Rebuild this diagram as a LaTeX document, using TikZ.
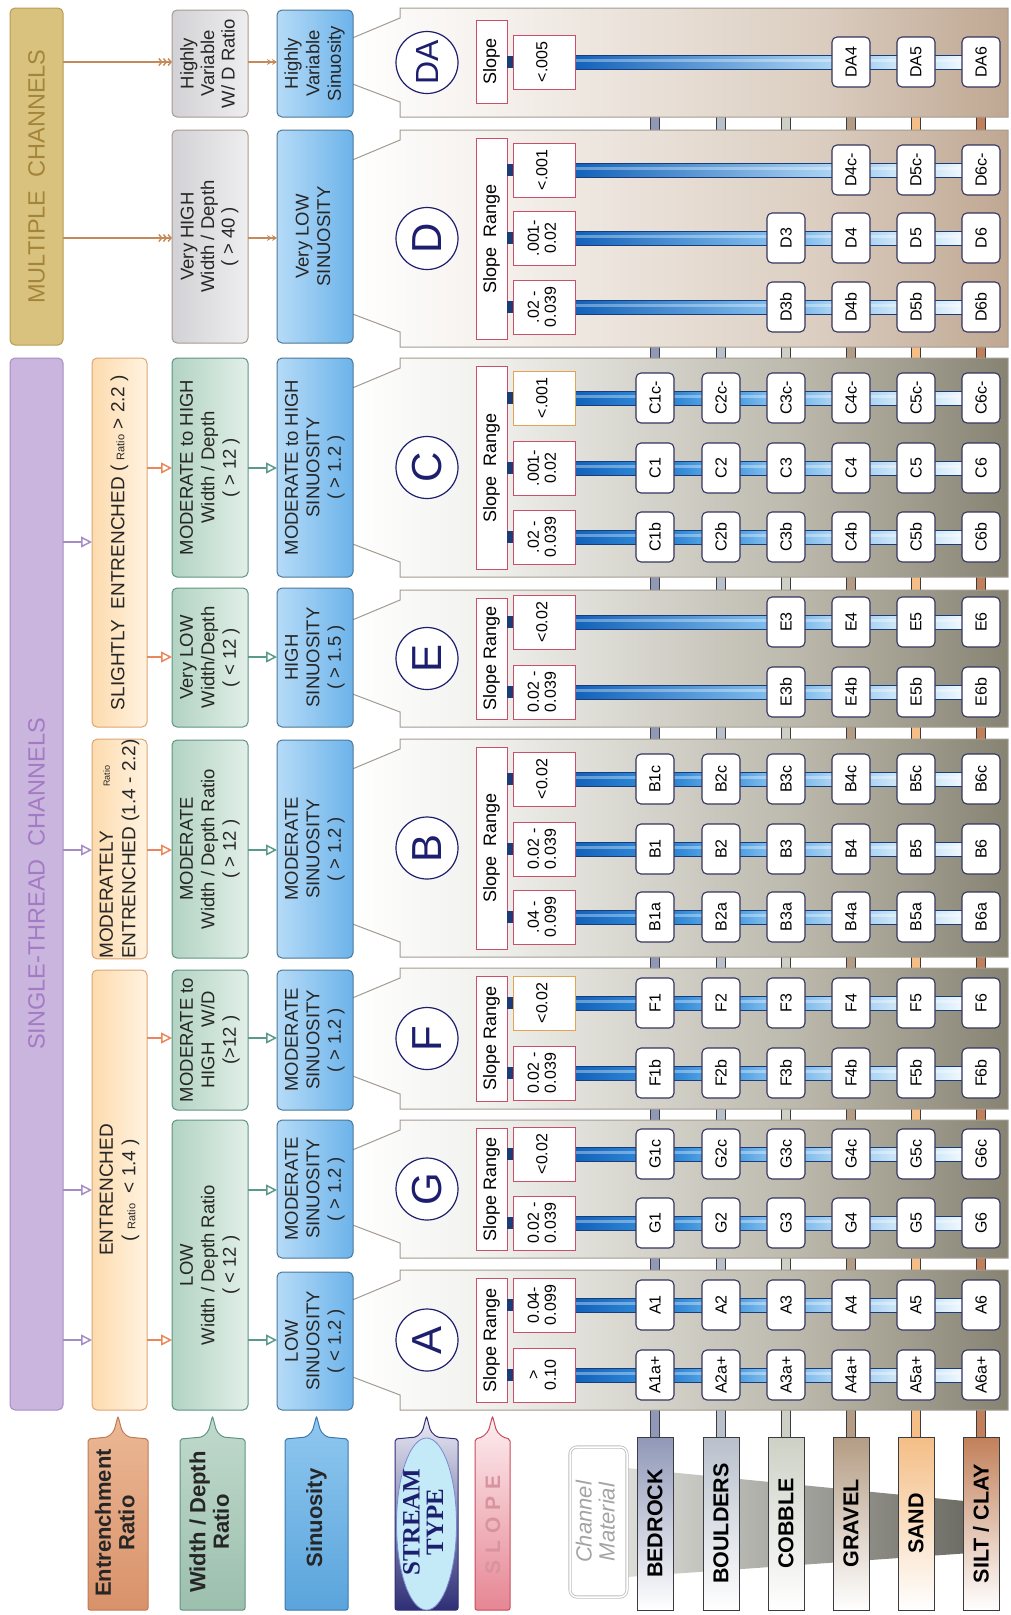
\documentclass[tikz,border=0pt]{standalone}
\usepackage{fontspec}
\setmainfont{Liberation Sans}
\newfontfamily\serf{Liberation Serif}
\newfontfamily\spacedf[LetterSpace=32]{Liberation Sans}
\usepackage{graphicx}
\usetikzlibrary{arrows.meta,calc}
\pgfdeclarelayer{pan}
\pgfdeclarelayer{barl}
\pgfsetlayers{pan,barl,main}

\definecolor{navy}{HTML}{1E1E6E}
\definecolor{tbd}{HTML}{33335C}
\definecolor{bardk}{HTML}{1C3C78}
\definecolor{bs0}{HTML}{1262BA}
\definecolor{bs1}{HTML}{2C84D4}
\definecolor{bs2}{HTML}{50A0E2}
\definecolor{bs3}{HTML}{80BCEC}
\definecolor{bs4}{HTML}{ACD4F3}
\definecolor{bs5}{HTML}{D0E8F8}
\definecolor{bs6}{HTML}{F0F8FE}
\definecolor{slred}{HTML}{C8506A}
\definecolor{slor}{HTML}{E2A452}
\definecolor{pnl}{HTML}{A39B91}
\definecolor{stl}{HTML}{F1F1EE}
\definecolor{stmid}{HTML}{B9B6A9}
\definecolor{stright}{HTML}{878373}
\definecolor{dl}{HTML}{F6F2EE}
\definecolor{dmid}{HTML}{DCCFC2}
\definecolor{dright}{HTML}{BFA792}
\definecolor{mcf}{HTML}{D9C27E}
\definecolor{mcd}{HTML}{B89C56}
\definecolor{mct}{HTML}{A4843A}
\definecolor{stcf}{HTML}{C9B5DD}
\definecolor{stcd}{HTML}{A68EC2}
\definecolor{stct}{HTML}{A47AC4}
\definecolor{entl}{HTML}{FDDBAE}
\definecolor{entr}{HTML}{FFF3E0}
\definecolor{entd}{HTML}{DDA474}
\definecolor{wdl}{HTML}{B2D3C3}
\definecolor{wdr}{HTML}{E2EFE8}
\definecolor{wdd}{HTML}{5E9482}
\definecolor{mwl}{HTML}{D2D2D6}
\definecolor{mwr}{HTML}{EEEEF0}
\definecolor{mwd}{HTML}{A89A8C}
\definecolor{sil}{HTML}{B6DBF7}
\definecolor{sir}{HTML}{6CB3EA}
\definecolor{sid}{HTML}{4A7898}
\definecolor{arrp}{HTML}{A48CC4}
\definecolor{arro}{HTML}{E8885C}
\definecolor{arrg}{HTML}{5A9A8A}
\definecolor{arrb}{HTML}{C48A5A}
\definecolor{bedc}{HTML}{9098B8}
\definecolor{boulc}{HTML}{B8C0CC}
\definecolor{cobc}{HTML}{CDD1C5}
\definecolor{grac}{HTML}{B49C84}
\definecolor{sanc}{HTML}{F4BE86}
\definecolor{silc}{HTML}{C2805A}
\definecolor{matd}{HTML}{3C3C40}
\definecolor{wdgl}{HTML}{DCDCD8}
\definecolor{wdgr}{HTML}{66665E}
\definecolor{chg}{HTML}{A4A4A4}
\definecolor{lget}{HTML}{ECB896}
\definecolor{lgeb}{HTML}{D8926A}
\definecolor{lged}{HTML}{C07A56}
\definecolor{lgwt}{HTML}{C0DACC}
\definecolor{lgwb}{HTML}{9CBFAE}
\definecolor{lgsit}{HTML}{90C8EF}
\definecolor{lgsib}{HTML}{5AA4DC}
\definecolor{lgsid}{HTML}{3A78B0}
\definecolor{lgstt}{HTML}{ECECF6}
\definecolor{lgstb}{HTML}{2E2E76}
\definecolor{elf}{HTML}{C4EAF8}
\definecolor{elb}{HTML}{7A8AD0}
\definecolor{lgslt}{HTML}{FDEEF0}
\definecolor{lgslb}{HTML}{E68694}
\definecolor{lgsld}{HTML}{C84A5A}
\definecolor{slt}{HTML}{D8949E}

\pgfdeclarehorizontalshading{stpanel}{100bp}{color(0bp)=(white); color(25bp)=(white); color(35bp)=(stl); color(60bp)=(stmid); color(75bp)=(stright); color(100bp)=(stright)}
\pgfdeclarehorizontalshading{dpanel}{100bp}{color(0bp)=(white); color(25bp)=(white); color(35bp)=(dl); color(60bp)=(dmid); color(75bp)=(dright); color(100bp)=(dright)}

\newcommand\fs[2]{\fontsize{#1}{#2}\selectfont}
\newcommand\vt[1]{\rotatebox{90}{\begin{tabular}{@{}c@{}}#1\end{tabular}}}
\newcommand\vtl[1]{\rotatebox{90}{\begin{tabular}{@{}l@{}}#1\end{tabular}}}

% bar between two named nodes
\newcommand\sbar[4]{%
  \begin{pgfonlayer}{barl}
  \path[left color=#3, right color=#4] ($(#1.east)+(0,-7)$) rectangle ($(#2.west)+(0,7)$);
  \draw[bardk, line width=0.9pt] ($(#1.east)+(0,-7)$) -- ($(#2.west)+(0,-7)$);
  \draw[bardk, line width=0.9pt] ($(#1.east)+(0,7)$) -- ($(#2.west)+(0,7)$);
  \draw[white, opacity=0.35, line width=3pt] ($(#1.east)+(0,-2)$) -- ($(#2.west)+(0,-2)$);
  \end{pgfonlayer}}

% \trow{id}{y}{slope text}{border colour}{prefix}{suffix}{first column}
\newcommand\trow[7]{%
  \node[slopebox, draw=#4] (sv#1) at (544,#2) {\vt{#3}};
  \fill[bardk] ($(sv#1.west)+(-6,-6)$) rectangle ($(sv#1.west)+(0,6)$);
  \foreach \n/\xx in {1/655,2/721,3/786,4/851,5/916,6/981}{%
    \ifnum\n<#7\relax\else
      \node[typebox] (#1-\n) at (\xx,#2) {\rotatebox{90}{#5\n#6}};
      \pgfmathtruncatemacro\pn{\n-1}%
      \ifnum\n=#7\relax
        \sbar{sv#1}{#1-\n}{bs0}{bs\n}%
      \else
        \sbar{#1-\pn}{#1-\n}{bs\pn}{bs\n}%
      \fi
    \fi
  }}

% panel shape: top, bottom, shading
\newcommand\panel[3]{%
  \shadedraw[shading=#3, draw=pnl, line width=1pt] (400,#1) -- (1008,#1) -- (1008,#2) -- (400,#2) -- (400,{#2-15}) -- (350,{#2-34}) -- (350,{#1+31}) -- (400,{#1+10}) -- cycle;}

% legend shape with pointed top: x1, x2, options
\newcommand\legshape[3]{%
  \pgfmathsetmacro\lcx{(#1+#2)/2}%
  \path[#3, rounded corners=2pt] (#1,1610) -- (#1,1439) -- ({\lcx-10},1437) -- ({\lcx-4},1431) -- (\lcx,1416) -- ({\lcx+4},1431) -- ({\lcx+10},1437) -- (#2,1439) -- (#2,1610) -- cycle;}

\begin{document}
\begin{tikzpicture}[x=1pt,y=-1pt,
  every node/.style={inner sep=0pt,outer sep=0pt},
  lbox/.style={rounded corners=5pt, line width=1pt, minimum width=76pt},
  mcbox/.style={draw=mcd, fill=mcf, rounded corners=5pt, line width=1pt, minimum width=53pt, text=mct, font={\fs{23.5}{25}}},
  stcbox/.style={draw=stcd, fill=stcf, rounded corners=5pt, line width=1pt, minimum width=53pt, text=stct, font={\fs{23.5}{25}}},
  entbox/.style={draw=entd, left color=entl, right color=entr, rounded corners=5pt, line width=1pt, minimum width=55pt, text=black!85, font={\fs{19}{22.5}}},
  wdbox/.style={lbox, draw=wdd, left color=wdl, right color=wdr, text=black!85, font={\fs{18.5}{21.5}}},
  mwbox/.style={lbox, draw=mwd, left color=mwl, right color=mwr, text=black!85, font={\fs{18.5}{20.5}}},
  sibox/.style={lbox, draw=sid, left color=sil, right color=sir, text=black!85, font={\fs{18.5}{21.5}}},
  slopebox/.style={fill=white, line width=1pt, minimum width=62pt, minimum height=54pt, font={\fs{16}{17}}},
  slopelab/.style={draw=slred, fill=white, line width=1pt, minimum width=31pt, font={\fs{18}{20}}},
  typebox/.style={draw=tbd, fill=white, line width=1.1pt, rounded corners=5pt, minimum width=38pt, minimum height=50pt, font={\fs{16}{18}}},
  tcirc/.style={circle, draw=navy, line width=1.2pt, fill=white, minimum size=62pt, text=navy, font={\fs{42}{42}}},
  matbox/.style={draw=matd, line width=1pt, minimum width=36pt, minimum height=173pt, font={\fs{21.5}{23}\bfseries}},
  parr/.style={draw=arrp, line width=1.5pt, -{Triangle[open,length=11pt,width=11pt]}},
  oarr/.style={draw=arro, line width=1.5pt, -{Triangle[open,length=11pt,width=11pt]}},
  garr/.style={draw=arrg, line width=1.5pt, -{Triangle[open,length=11pt,width=11pt]}},
  barr3/.style={draw=arrb, line width=1.4pt, -{Straight Barb[length=3pt,width=7pt] Straight Barb[length=3pt,width=7pt] Straight Barb[length=3pt,width=7pt]}},
  barr2/.style={draw=arrb, line width=1.4pt, -{Stealth[length=5pt,width=6pt] Stealth[length=5pt,width=6pt]}}
]
\useasboundingbox (0,0) rectangle (1010,1615);

% ---------- channel material boxes
\node[matbox, top color=bedc, bottom color=white] (m1) at (655,1523.5) {\rotatebox{90}{BEDROCK}};
\node[matbox, top color=boulc, bottom color=white] (m2) at (721,1523.5) {\rotatebox{90}{BOULDERS}};
\node[matbox, top color=cobc, bottom color=white] (m3) at (786,1523.5) {\rotatebox{90}{COBBLE}};
\node[matbox, top color=grac, bottom color=white] (m4) at (851,1523.5) {\rotatebox{90}{GRAVEL}};
\node[matbox, top color=sanc, bottom color=white] (m5) at (916,1523.5) {\rotatebox{90}{SAND}};
\node[matbox, top color=silc, bottom color=white] (m6) at (981,1523.5) {\rotatebox{90}{SILT / CLAY}};
\node[draw=chg!70, double=white, double distance=1.5pt, line width=0.8pt, rounded corners=7pt, fill=white, minimum width=57pt, minimum height=150pt, text=chg, font={\fs{22}{23}\itshape}] (chm) at (598.5,1522) {\vt{Channel\\Material}};

\begin{pgfonlayer}{pan}
  \foreach \n/\cc in {1/bedc,2/boulc,3/cobc,4/grac,5/sanc,6/silc}{%
    \draw[line width=0.8pt, draw=matd, double=\cc, double distance=8pt] (m\n.north) -- (m\n.north |- 0,12);
  }
  \panel{8}{117}{dpanel}
  \panel{130}{347}{dpanel}
  \panel{358}{577}{stpanel}
  \panel{590}{727}{stpanel}
  \panel{739}{957}{stpanel}
  \panel{968}{1109}{stpanel}
  \panel{1120}{1258}{stpanel}
  \panel{1270}{1410}{stpanel}
  \path[left color=wdgl, right color=wdgr] (627,1468) -- (985,1503) -- (985,1552) -- (627,1577) -- cycle;
\end{pgfonlayer}

% ---------- left column
\node[mcbox, minimum height=337pt] (mc) at (36.5,176.5) {\rotatebox{90}{MULTIPLE\ \ CHANNELS}};
\node[stcbox, minimum height=1052pt] (stc) at (36.5,884) {\rotatebox{90}{SINGLE-THREAD\ \ CHANNELS}};

\node[entbox, minimum height=369pt] (ent1) at (119.5,542.5) {\rotatebox{90}{SLIGHTLY\ \ ENTRENCHED ( {\fs{11}{12}Ratio} > 2.2 )}};
\node[entbox, minimum height=218pt] (ent2) at (119.5,849) {\vtl{MODERATELY\hspace{44pt}\raisebox{3pt}{\fs{9}{10}Ratio}\\ENTRENCHED (1.4 - 2.2)}};
\node[entbox, minimum height=440pt] (ent3) at (119.5,1190) {\vt{ENTRENCHED\\( {\fs{11}{12}Ratio} \ < 1.4 )}};

\node[mwbox, minimum height=107pt] (wdDA) at (210,63.5) {\vt{Highly\\Variable\\W/ D Ratio}};
\node[mwbox, minimum height=213pt] (wdD) at (210,236.5) {\vt{Very HIGH\\Width / Depth\\( > 40 )}};
\node[wdbox, minimum height=219pt] (wdC) at (210,467.5) {\vt{MODERATE to HIGH\\Width / Depth\\( > 12 )}};
\node[wdbox, minimum height=139pt] (wdE) at (210,657.5) {\vt{Very LOW\\Width/Depth\\( < 12 )}};
\node[wdbox, minimum height=218pt] (wdB) at (210,849) {\vt{MODERATE\\Width / Depth Ratio\\( > 12 )}};
\node[wdbox, minimum height=140pt] (wdF) at (210,1040) {\vt{MODERATE to\\HIGH\ \ \ W/D\\(>12 )}};
\node[wdbox, minimum height=290pt] (wdAG) at (210,1265) {\vt{LOW\\Width / Depth Ratio\\( < 12 )}};

\node[sibox, minimum height=107pt] (siDA) at (315,63.5) {\vt{Highly\\Variable\\Sinuosity}};
\node[sibox, minimum height=213pt] (siD) at (315,236.5) {\vt{Very LOW\\SINUOSITY}};
\node[sibox, minimum height=219pt] (siC) at (315,467.5) {\vt{MODERATE to HIGH\\SINUOSITY\\( > 1.2 )}};
\node[sibox, minimum height=139pt] (siE) at (315,657.5) {\vt{HIGH\\SINUOSITY\\( > 1.5 )}};
\node[sibox, minimum height=218pt] (siB) at (315,849) {\vt{MODERATE\\SINUOSITY\\( > 1.2 )}};
\node[sibox, minimum height=140pt] (siF) at (315,1040) {\vt{MODERATE\\SINUOSITY\\( > 1.2 )}};
\node[sibox, minimum height=138pt] (siG) at (315,1189) {\vt{MODERATE\\SINUOSITY\\( > 1.2 )}};
\node[sibox, minimum height=138pt] (siA) at (315,1341) {\vt{LOW\\SINUOSITY\\( < 1.2 )}};

% ---------- arrows
\draw[barr3] (mc.east |- 0,62) -- (wdDA.west |- 0,62);
\draw[barr3] (mc.east |- 0,238) -- (wdD.west |- 0,238);
\draw[barr2] (wdDA.east |- 0,62) -- (siDA.west |- 0,62);
\draw[barr2] (wdD.east |- 0,238) -- (siD.west |- 0,238);
\draw[parr] (stc.east |- 0,542) -- (ent1.west |- 0,542);
\draw[parr] (stc.east |- 0,850) -- (ent2.west |- 0,850);
\draw[parr] (stc.east |- 0,1190) -- (ent3.west |- 0,1190);
\draw[parr] (stc.east |- 0,1340) -- (ent3.west |- 0,1340);
\draw[oarr] (ent1.east |- 0,468) -- (wdC.west |- 0,468);
\draw[oarr] (ent1.east |- 0,657) -- (wdE.west |- 0,657);
\draw[oarr] (ent2.east |- 0,850) -- (wdB.west |- 0,850);
\draw[oarr] (ent3.east |- 0,1038) -- (wdF.west |- 0,1038);
\draw[oarr] (ent3.east |- 0,1340) -- (wdAG.west |- 0,1340);
\draw[garr] (wdC.east |- 0,468) -- (siC.west |- 0,468);
\draw[garr] (wdE.east |- 0,657) -- (siE.west |- 0,657);
\draw[garr] (wdB.east |- 0,850) -- (siB.west |- 0,850);
\draw[garr] (wdF.east |- 0,1038) -- (siF.west |- 0,1038);
\draw[garr] (wdAG.east |- 0,1190) -- (siG.west |- 0,1190);
\draw[garr] (wdAG.east |- 0,1340) -- (siA.west |- 0,1340);

% ---------- stream type letters
\node[tcirc, font={\fs{32}{32}}] (cDA) at (427,62.5) {\rotatebox{90}{DA}};
\node[tcirc] (cD) at (427,238.5) {\rotatebox{90}{D}};
\node[tcirc] (cC) at (427,467.5) {\rotatebox{90}{C}};
\node[tcirc] (cE) at (427,658.5) {\rotatebox{90}{E}};
\node[tcirc] (cB) at (427,848) {\rotatebox{90}{B}};
\node[tcirc] (cF) at (427,1038.5) {\rotatebox{90}{F}};
\node[tcirc] (cG) at (427,1189) {\rotatebox{90}{G}};
\node[tcirc] (cA) at (427,1340) {\rotatebox{90}{A}};

% ---------- slope labels
\node[slopelab, minimum height=83pt] (slDA) at (491.5,61.5) {\rotatebox{90}{Slope}};
\node[slopelab, minimum height=201pt] (slD) at (491.5,238.5) {\rotatebox{90}{Slope\ \ Range}};
\node[slopelab, minimum height=203pt] (slC) at (491.5,467.5) {\rotatebox{90}{Slope\ \ Range}};
\node[slopelab, minimum height=121pt] (slE) at (491.5,658.5) {\rotatebox{90}{Slope Range}};
\node[slopelab, minimum height=202pt] (slB) at (491.5,848) {\rotatebox{90}{Slope\ \ Range}};
\node[slopelab, minimum height=125pt] (slF) at (491.5,1038.5) {\rotatebox{90}{Slope Range}};
\node[slopelab, minimum height=122pt] (slG) at (491.5,1189) {\rotatebox{90}{Slope Range}};
\node[slopelab, minimum height=124pt] (slA) at (491.5,1340) {\rotatebox{90}{Slope Range}};

% ---------- stream type rows
\trow{DAt}{62}{<.005}{slred}{DA}{}{4}
\trow{Dt}{170}{<.001}{slred}{D}{c-}{4}
\trow{Dm}{238}{.001-\\0.02}{slred}{D}{}{3}
\trow{Db}{307}{.02 -\\0.039}{slred}{D}{b}{3}
\trow{Ct}{398}{<.001}{slor}{C}{c-}{1}
\trow{Cm}{468}{.001-\\0.02}{slred}{C}{}{1}
\trow{Cb}{537}{.02 -\\0.039}{slred}{C}{b}{1}
\trow{Et}{622}{<0.02}{slred}{E}{}{3}
\trow{Eb}{692}{0.02 -\\0.039}{slred}{E}{b}{3}
\trow{Bt}{779}{<0.02}{slred}{B}{c}{1}
\trow{Bm}{849}{0.02 -\\0.039}{slred}{B}{}{1}
\trow{Bb}{917}{.04 -\\0.099}{slred}{B}{a}{1}
\trow{Ft}{1003}{<0.02}{slor}{F}{}{1}
\trow{Fb}{1073}{0.02 -\\0.039}{slred}{F}{b}{1}
\trow{Gt}{1154}{<0.02}{slred}{G}{c}{1}
\trow{Gb}{1223}{0.02 -\\0.039}{slred}{G}{}{1}
\trow{At}{1305}{0.04-\\0.099}{slred}{A}{}{1}
\trow{Ab}{1375}{>\\0.10}{slred}{A}{a+}{1}

% ---------- legends
\legshape{88}{148}{draw=lged, line width=1pt, top color=lget, bottom color=lgeb}
\node[font={\fs{22}{23.5}\bfseries}, text=black!85] (lgE) at (118,1523) {\vt{Entrenchment\\Ratio}};
\legshape{180}{245}{draw=wdd, line width=1pt, top color=lgwt, bottom color=lgwb}
\node[font={\fs{22}{23.5}\bfseries}, text=black!85] (lgW) at (212.5,1522) {\vt{Width / Depth\\Ratio}};
\legshape{285}{348}{draw=lgsid, line width=1pt, top color=lgsit, bottom color=lgsib}
\node[font={\fs{22}{23.5}\bfseries}, text=black!85] (lgS) at (316.5,1518) {\rotatebox{90}{Sinuosity}};
\legshape{395}{458}{draw=lgstb, line width=1pt, top color=lgstt, bottom color=lgstb}
\draw[draw=elb, fill=elf, line width=0.8pt] (426.5,1524) ellipse [x radius=30pt, y radius=86pt];
\node[font={\serf\fs{25}{23.5}\bfseries}, text=navy] (lgT) at (426.5,1522) {\vt{STREAM\\TYPE}};
\legshape{475}{510}{draw=lgsld, line width=1pt, top color=lgslt, bottom color=lgslb}
\node[font={\spacedf\fs{21}{22}\bfseries}, text=slt] (lgSl) at (493,1525) {\rotatebox{90}{SLOPE}};

\end{tikzpicture}
\end{document}
